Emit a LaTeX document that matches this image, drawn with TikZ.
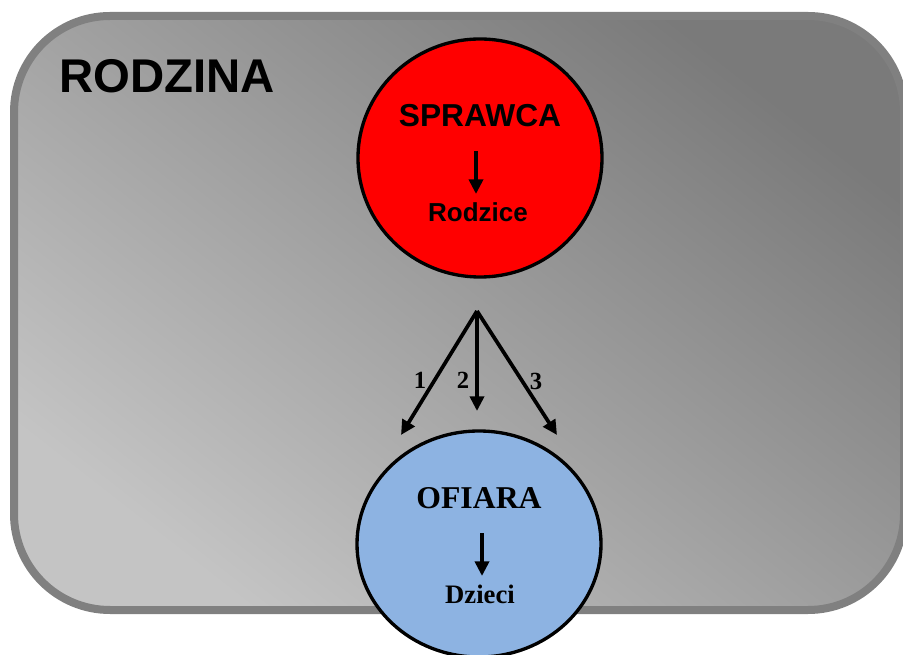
\documentclass[tikz,border=0pt]{standalone}
\usepackage{fontspec}
\setmainfont{Liberation Serif}
\setsansfont{Liberation Sans}
\usetikzlibrary{arrows.meta}
\definecolor{frame}{HTML}{808080}
\definecolor{darkfill}{HTML}{7A7A7A}
\definecolor{lightfill}{HTML}{C4C4C4}
\definecolor{victim}{HTML}{8DB3E2}
\tikzset{
  arr/.style={line width=2.8pt, -{Triangle[length=11pt,width=10.5pt]}},
  sanslab/.style={font=\sffamily\bfseries, inner sep=0pt},
  seriflab/.style={font=\rmfamily\bfseries, inner sep=0pt},
}
\begin{document}
\begin{tikzpicture}[x=0.75pt,y=-0.75pt]
\useasboundingbox (0,0) rectangle (903,655);
\begin{scope}
\clip (0,0) rectangle (903,655);
\shade[top color=darkfill, bottom color=lightfill, shading angle=-38, rounded corners=72pt]
  (14,16) rectangle (904,610);
\draw[frame, line width=6pt, rounded corners=72pt] (14,16) rectangle (904,610);
\end{scope}
\node[sanslab, font=\sffamily\bfseries\fontsize{35.5pt}{40pt}\selectfont] (rodzina) at (167,76) {RODZINA};

\filldraw[fill=red, draw=black, line width=2.5pt] (480,158) ellipse [x radius=122, y radius=119];
\node[sanslab, font=\sffamily\bfseries\fontsize{23.8pt}{28pt}\selectfont] (sprawca) at (480,116) {SPRAWCA};
\node[sanslab, font=\sffamily\bfseries\fontsize{19.5pt}{23pt}\selectfont] (rodzice) at (478,212) {Rodzice};
\coordinate (a1s) at (476,151);
\coordinate (a1e) at (476,194);
\draw[arr] (a1s) -- (a1e);

\coordinate (fan) at (477,311);
\coordinate (e1) at (401,435);
\coordinate (e2) at (477,411);
\coordinate (e3) at (557,435);
\draw[arr] (fan) -- (e1);
\draw[arr] (fan) -- (e2);
\draw[arr] (fan) -- (e3);
\node[seriflab, font=\rmfamily\bfseries\fontsize{18.5pt}{22pt}\selectfont] (n1) at (420,380) {1};
\node[seriflab, font=\rmfamily\bfseries\fontsize{18.5pt}{22pt}\selectfont] (n2) at (463,380) {2};
\node[seriflab, font=\rmfamily\bfseries\fontsize{18.5pt}{22pt}\selectfont] (n3) at (536,381) {3};

\filldraw[fill=victim, draw=black, line width=2.5pt] (479,544) ellipse [x radius=122, y radius=113];
\node[seriflab, font=\rmfamily\bfseries\fontsize{23.8pt}{28pt}\selectfont] (ofiara) at (479,498) {OFIARA};
\node[seriflab, font=\rmfamily\bfseries\fontsize{20pt}{24pt}\selectfont] (dzieci) at (480,594) {Dzieci};
\coordinate (a2s) at (482,533);
\coordinate (a2e) at (482,576);
\draw[arr] (a2s) -- (a2e);
\end{tikzpicture}
\end{document}
